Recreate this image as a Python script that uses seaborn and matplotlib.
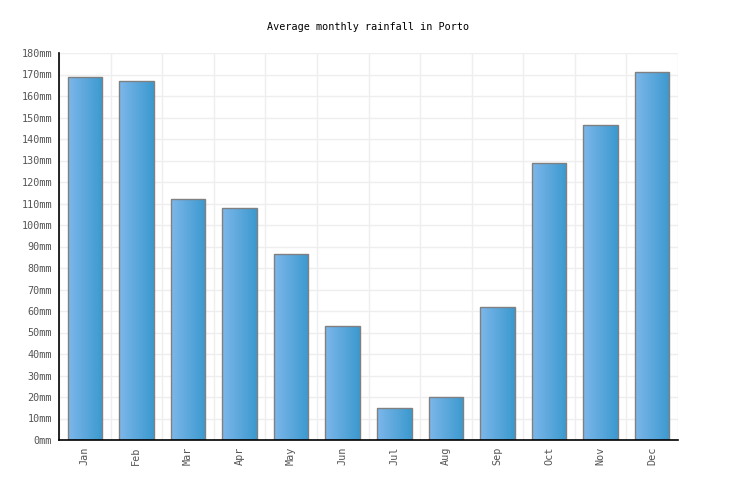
import numpy as np
import pandas as pd
import matplotlib
matplotlib.use("Agg")
import matplotlib.pyplot as plt
import seaborn as sns
from matplotlib.colors import LinearSegmentedColormap
from matplotlib.ticker import MultipleLocator, FuncFormatter

# Ortalama aylık yağış verisi (Porto)
months = ["Jan", "Feb", "Mar", "Apr", "May", "Jun",
          "Jul", "Aug", "Sep", "Oct", "Nov", "Dec"]
rainfall_mm = [169, 167, 112, 108, 86.5, 53, 15, 20, 62, 129, 146.5, 171]

df = pd.DataFrame({"month": months, "rain": rainfall_mm})

sns.set_style("white")
plt.rcParams["font.family"] = ["DejaVu Sans Mono"]

fig = plt.figure(figsize=(7.36, 5.0), dpi=100)
ax = fig.add_axes([59 / 736, 60 / 500, 619 / 736, 387 / 500])

sns.barplot(data=df, x="month", y="rain", ax=ax, width=0.67,
            color="#5aa6dc", edgecolor="#808080", linewidth=1.0, zorder=3)

# Çubuklara soldan sağa renk geçişi
grad = LinearSegmentedColormap.from_list("bar", ["#7db7ea", "#3b99cf"])
ramp = np.linspace(0, 1, 64).reshape(1, -1)
for p in ax.patches:
    x0, y0 = p.get_x(), p.get_y()
    w, h = p.get_width(), p.get_height()
    p.set_facecolor("none")
    im = ax.imshow(ramp, cmap=grad, aspect="auto", zorder=2.5,
                   extent=[x0, x0 + w, y0, y0 + h], interpolation="bilinear")
    im.set_clip_path(p)

ax.set_xlim(-0.5, len(months) - 0.5)
ax.set_ylim(0, 180)
ax.yaxis.set_major_locator(MultipleLocator(10))
ax.yaxis.set_major_formatter(FuncFormatter(lambda v, _: f"{int(v)}mm"))
ax.set_xticks(np.arange(len(months) + 1) - 0.5, minor=True)

ax.grid(axis="y", which="major", color="#eeeeee", linewidth=1.0, zorder=0)
ax.grid(axis="x", which="minor", color="#eeeeee", linewidth=1.0, zorder=0)
ax.grid(axis="x", which="major", visible=False)
ax.set_axisbelow(True)

ax.set_xlabel("")
ax.set_ylabel("")
ax.tick_params(axis="both", which="both", length=0, labelsize=7.3,
               labelcolor="#555555")
ax.tick_params(axis="y", pad=5)
ax.tick_params(axis="x", pad=5)
plt.setp(ax.get_xticklabels(), rotation=90)

for side in ["top", "right"]:
    ax.spines[side].set_visible(False)
ax.spines["left"].set_color("black")
ax.spines["bottom"].set_color("black")
ax.spines["left"].set_linewidth(1.2)
ax.spines["bottom"].set_linewidth(1.2)
ax.spines["left"].set_zorder(4)
ax.spines["bottom"].set_zorder(4)

fig.text(0.5, 1 - 27 / 500, "Average monthly rainfall in Porto",
         ha="center", va="center", fontsize=7.3, color="black")

fig.savefig("out.png", dpi=100, facecolor="white")
